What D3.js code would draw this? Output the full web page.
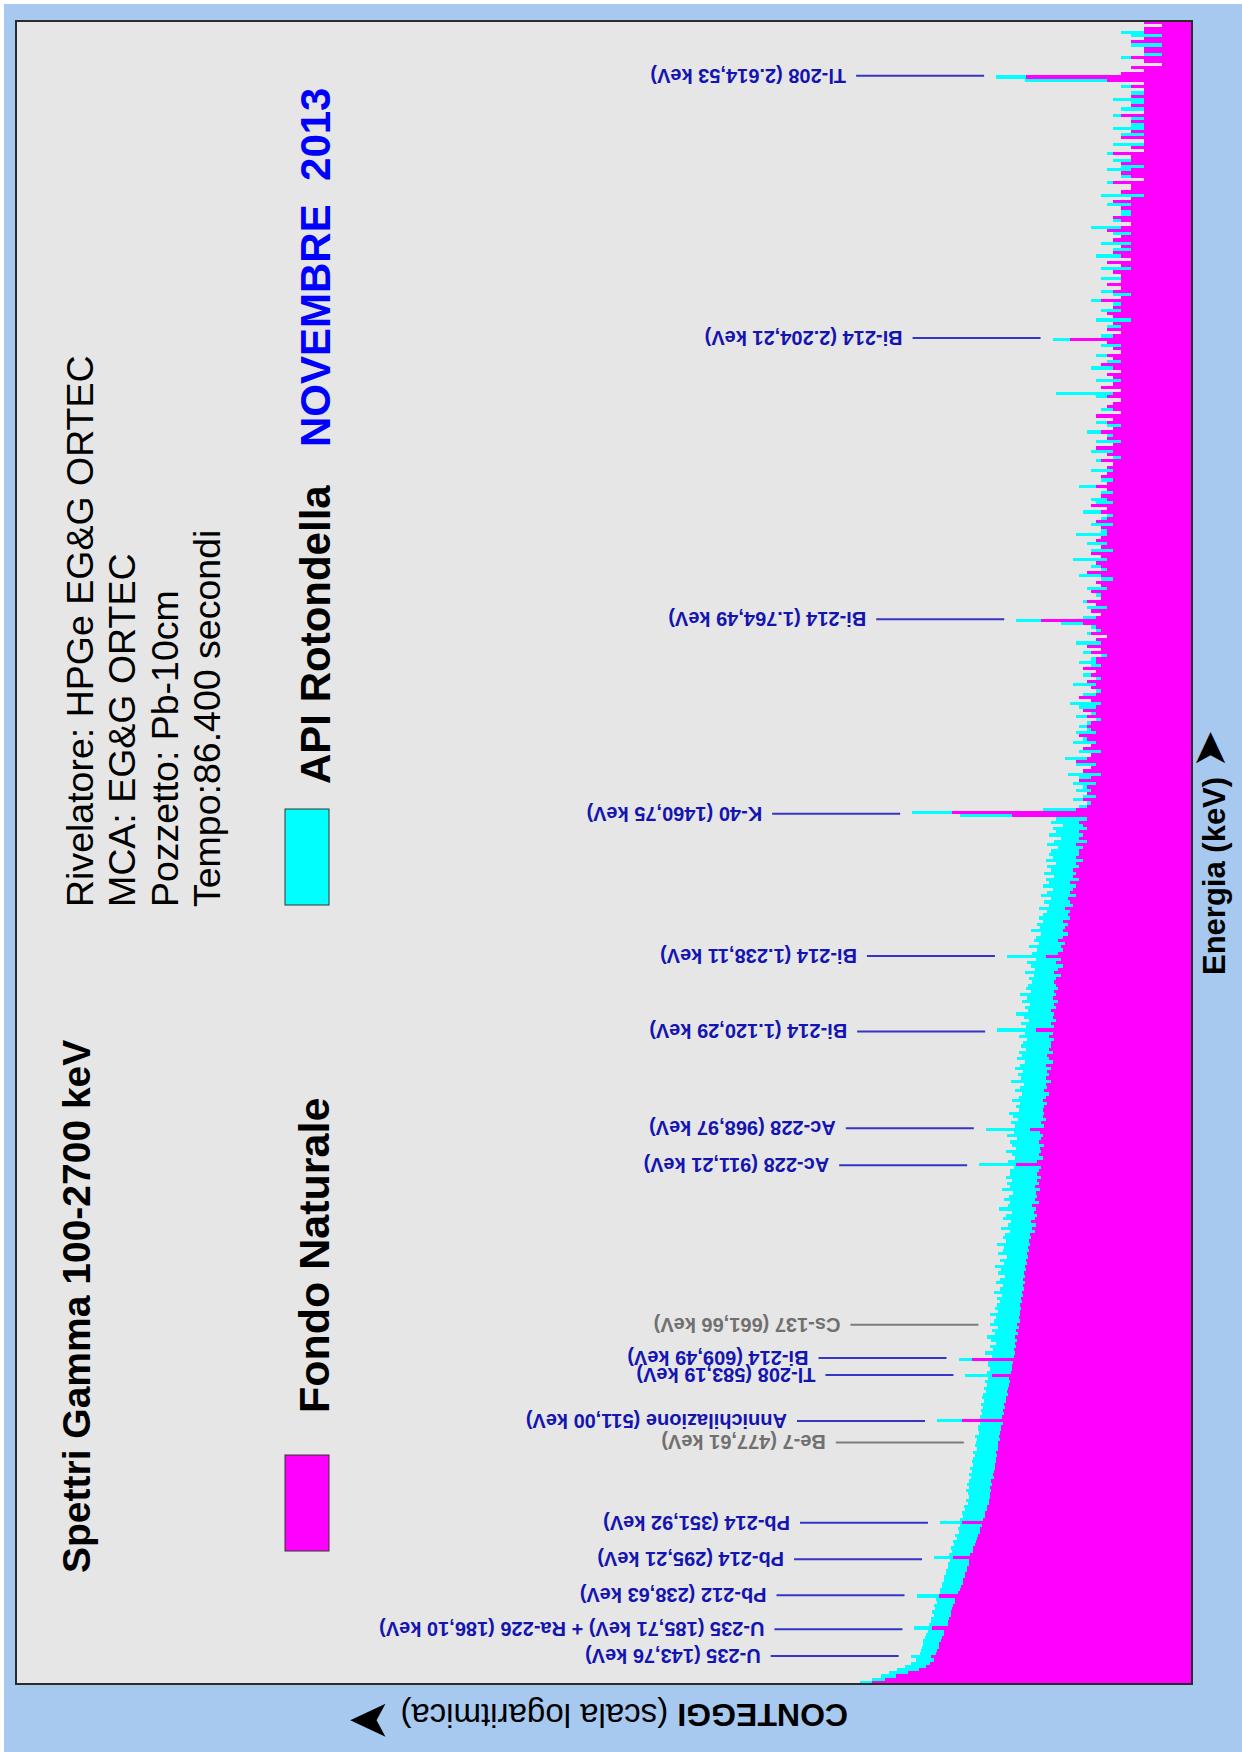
<!DOCTYPE html>
<html>
<head>
<meta charset="utf-8">
<script src="https://cdn.jsdelivr.net/npm/d3@7"></script>
<style>
  html, body { margin: 0; padding: 0; background: #ffffff; }
  svg { display: block; }
  text { font-family: "Liberation Sans", Arial, Helvetica, sans-serif; }
</style>
</head>
<body>
<svg id="chart" width="1242" height="1752"></svg>
<script>
// Energy binning of both spectra (keV)
const binStart = 100;
const binWidth = 5;
const energyMax = 2700;
// Upper end of the logarithmic counts axis
const countMax = 4.4e11;

// Counts per 5 keV bin, 100 -> 2700 keV (one row = 100 keV)
const fondoNaturale = [
  1480,1100,850,650,500,430,395,362,380,345,334,322,320,306,302,288,284,375,262,259,
  254,245,244,236,234,224,221,320,206,196,194,186,185,178,177,170,169,163,161,232,
  157,149,147,140,139,134,132,127,126,121,189,118,113,112,108,108,103,103,99,100,
  98,100,95,97,92,94,91,89,90,87,88,85,87,83,84,83,80,82,79,78,
  77,75,190,76,73,74,71,72,69,70,67,68,66,65,64,65,95,62,61,60,
  59,150,58,56,58,55,57,54,56,53,55,52,54,51,52,50,51,49,50,48,
  49,47,48,46,47,45,47,45,46,44,45,43,44,42,43,41,42,40,41,39,
  40,36,38,35,39,36,34,37,35,38,33,36,34,35,32,36,33,34,31,34,
  33,31,55,34,30,33,31,32,29,33,31,30,32,40,29,31,28,30,29,30,
  29,27,30,28,26,29,27,28,25,28,26,27,25,28,24,26,27,24,26,25,
  25,23,26,24,35,23,25,22,24,23,25,22,23,21,24,22,23,21,22,23,
  22,20,23,21,19,22,20,28,21,19,20,18,21,19,17,19,18,17,19,16,
  17,16,18,15,16,17,14,16,15,14,16,13,15,14,15,13,14,12,14,13,
  13,12,14,11,13,12,13,11,12,13,11,60,240,14,11,10,12,9,11,10,
  11,9,13,10,8,12,10,9,14,11,10,8,12,10,9,11,13,9,10,11,
  10,8,11,9,12,9,8,10,13,9,8,10,9,11,8,10,9,12,8,9,
  9,7,10,8,11,8,9,7,10,8,9,12,31,9,8,10,7,9,11,8,
  8,10,7,8,9,6,8,11,7,8,9,7,8,10,6,8,7,9,8,7,
  7,8,6,9,7,6,8,7,10,6,7,8,6,7,9,7,6,8,7,6,
  7,6,8,5,7,6,9,6,5,7,6,8,6,5,7,6,9,5,6,7,
  6,5,7,6,5,8,6,5,6,7,5,6,8,5,6,7,5,6,5,7,
  16,6,5,7,5,6,4,6,7,5,6,5,8,5,4,6,5,7,5,5,
  5,6,4,5,7,4,5,6,4,5,4,6,5,4,7,5,4,5,6,4,
  4,5,4,6,4,3,5,4,4,6,3,4,5,4,3,5,4,4,6,3,
  4,3,3,5,3,4,3,3,4,3,5,3,3,4,3,3,4,3,3,4,
  3,7,44,5,3,4,2,3,4,2,3,3,2,4,3,2,3,3,2,3
];

const apiRotondella = [
  1950,1480,1210,990,840,700,610,540,610,495,482,474,462,458,438,428,408,560,398,383,
  384,362,371,350,356,333,341,534,316,312,302,297,288,284,272,270,262,260,250,358,
  254,238,244,226,231,214,220,204,208,196,313,197,183,189,175,180,166,172,160,166,
  172,160,169,163,154,161,150,157,148,151,146,142,149,136,141,138,133,140,129,132,
  130,126,335,127,121,124,118,123,114,119,117,109,115,108,112,104,175,107,101,105,
  104,205,96,112,94,101,88,97,108,90,95,84,99,92,87,101,83,90,86,80,
  85,76,92,79,74,88,80,71,84,77,90,73,79,68,83,75,72,86,70,74,
  71,64,78,67,62,74,69,60,81,66,63,72,65,59,76,64,68,61,70,63,
  64,58,128,66,57,61,70,55,60,63,54,68,58,110,56,62,53,59,65,52,
  55,50,60,52,48,57,51,46,62,49,53,47,56,50,45,54,48,52,44,49,
  47,43,52,45,85,44,49,41,46,55,42,45,40,48,43,51,39,44,42,38,
  41,37,45,36,39,43,35,68,38,34,41,33,37,35,31,39,32,34,30,33,
  30,27,33,26,29,25,31,27,24,30,26,28,23,29,25,27,22,28,24,26,
  25,21,27,23,20,26,22,24,19,25,22,200,590,30,13,11,15,12,10,14,
  12,15,10,13,17,11,9,14,12,18,10,13,11,9,15,12,10,14,11,13,
  11,9,14,10,8,13,16,10,11,12,9,8,15,11,9,12,8,11,10,13,
  10,8,12,7,9,14,9,7,11,9,10,20,55,12,8,7,11,9,12,7,
  9,7,11,6,9,8,13,6,8,10,7,15,8,6,10,8,11,6,8,14,
  8,6,10,5,8,7,12,6,5,9,10,6,8,5,13,7,8,6,5,10,
  7,5,9,6,5,10,7,4,9,6,7,11,5,7,9,5,7,4,8,6,
  6,5,9,22,5,7,4,9,6,7,5,10,4,7,6,9,5,4,8,6,
  24,8,5,4,7,6,9,4,6,8,4,6,10,4,6,8,4,6,5,8,
  4,6,8,4,6,3,9,5,6,4,8,5,3,6,5,10,4,6,3,5,
  5,3,7,5,3,8,5,3,4,7,3,5,4,7,5,3,6,4,7,3,
  4,6,3,4,5,2,6,4,3,4,6,3,5,2,4,6,3,4,3,5,
  3,45,87,5,3,4,2,3,5,3,3,2,4,3,2,4,5,3,2,3
];

// Identified gamma lines
const peakLabels = [
  "U-235 (143,76 keV)",
  "U-235 (185,71 keV) + Ra-226 (186,10 keV)",
  "Pb-212 (238,63 keV)",
  "Pb-214 (295,21 keV)",
  "Pb-214 (351,92 keV)",
  "Be-7 (477,61 keV)",
  "Annichilazione (511,00 keV)",
  "Tl-208 (583,19 keV)",
  "Bi-214 (609,49 keV)",
  "Cs-137 (661,66 keV)",
  "Ac-228 (911,21 keV)",
  "Ac-228 (968,97 keV)",
  "Bi-214 (1.120,29 keV)",
  "Bi-214 (1.238,11 keV)",
  "K-40 (1460,75 keV)",
  "Bi-214 (1.764,49 keV)",
  "Bi-214 (2.204,21 keV)",
  "Tl-208 (2.614,53 keV)"
];
const peakEnergies = [143.76, 185.71, 238.63, 295.21, 351.92, 477.61, 511.00, 583.19, 609.49,
  661.66, 911.21, 968.97, 1120.29, 1238.11, 1460.75, 1764.49, 2204.21, 2614.53];
const peakDetected = [true, true, true, true, true, false, true, true, true,
  false, true, true, true, true, true, true, true, true];

const titleText = "Spettri Gamma 100-2700 keV";
const infoLines = ["Rivelatore: HPGe EG&G ORTEC", "MCA: EG&G ORTEC", "Pozzetto: Pb-10cm", "Tempo:86.400 secondi"];
const seriesNames = ["Fondo Naturale", "API Rotondella"];
const periodText = "NOVEMBRE\u00a0\u00a02013";
const energyTitle = "Energia (keV)";
const countsTitle = ["CONTEGGI", "(scala logaritmica)"];

// ---------------------------------------------------------------
const W = 1242, H = 1752;
const plot = { left: 16, right: 1192, top: 21, bottom: 1684 };
const colors = { fondo: "#ff00ff", api: "#00ffff", page: "#a7c9ef", panel: "#e6e6e6" };

const svg = d3.select("#chart");

svg.append("rect").attr("x", 4).attr("y", 4).attr("width", W - 4).attr("height", H - 4)
  .attr("fill", colors.page);
svg.append("rect").attr("x", plot.left).attr("y", plot.top)
  .attr("width", plot.right - plot.left).attr("height", plot.bottom - plot.top)
  .attr("fill", colors.panel);

// Energy runs up the page, counts (log) grow to the left
const eScale = d3.scaleLinear().domain([binStart, energyMax]).range([plot.bottom, plot.top]);
const cScale = d3.scaleLog().domain([1, countMax]).range([plot.right, plot.left]);

function spectrumPath(values) {
  const pts = values.map((c, i) => ({ e: binStart + i * binWidth, c }));
  pts.push({ e: binStart + values.length * binWidth, c: values[values.length - 1] });
  return d3.area()
    .curve(d3.curveStepBefore)
    .y(d => eScale(d.e))
    .x0(plot.right)
    .x1(d => cScale(Math.max(1, d.c)))(pts);
}

const spectra = svg.append("g");
spectra.append("path").attr("d", spectrumPath(apiRotondella))
  .attr("fill", colors.api).attr("shape-rendering", "crispEdges");
spectra.append("path").attr("d", spectrumPath(fondoNaturale))
  .attr("fill", colors.fondo).attr("shape-rendering", "crispEdges");

// panel frame
svg.append("rect").attr("x", plot.left).attr("y", plot.top)
  .attr("width", plot.right - plot.left).attr("height", plot.bottom - plot.top)
  .attr("fill", "none").attr("stroke", "#2b2b2b").attr("stroke-width", 2);

// Peak annotations: a leader just short of the peak tip, label beyond it (upside down)
const tipGap = 12, leaderLength = 128, labelGap = 10;
const notes = svg.append("g");
peakEnergies.forEach((e, k) => {
  const bin = Math.floor((e - binStart) / binWidth);
  const tip = Math.max(apiRotondella[bin], fondoNaturale[bin]);
  const x1 = cScale(tip) - tipGap;
  const x0 = x1 - leaderLength;
  const y = eScale(e);
  const lineColor = peakDetected[k] ? "#3535c6" : "#7c7c7c";
  const textColor = peakDetected[k] ? "#1414b0" : "#707070";
  notes.append("line").attr("x1", x0).attr("x2", x1).attr("y1", y).attr("y2", y)
    .attr("stroke", lineColor).attr("stroke-width", 2);
  notes.append("text")
    .attr("transform", `translate(${x0 - labelGap},${y}) rotate(180)`)
    .attr("dominant-baseline", "central")
    .attr("font-size", 20).attr("font-weight", "bold")
    .attr("fill", textColor)
    .text(peakLabels[k]);
});

// Vertical text helper (reads bottom to top)
function upText(x, y, str, size, weight, fill) {
  return svg.append("text")
    .attr("transform", `translate(${x},${y}) rotate(-90)`)
    .attr("font-size", size).attr("font-weight", weight).attr("fill", fill)
    .text(str);
}

upText(90, 1573, titleText, 39, "bold", "#000");
infoLines.forEach((s, i) => upText(93 + i * 42.4, 907, s, 37.5, "normal", "#000"));

// Legend
svg.append("rect").attr("x", 285).attr("y", 1455).attr("width", 44).attr("height", 96)
  .attr("fill", colors.fondo).attr("stroke", "#333").attr("stroke-width", 1);
upText(329, 1413, seriesNames[0], 43, "bold", "#000");
svg.append("rect").attr("x", 285).attr("y", 809).attr("width", 44).attr("height", 96)
  .attr("fill", colors.api).attr("stroke", "#333").attr("stroke-width", 1);
upText(330, 784, seriesNames[1], 42, "bold", "#000");
upText(330, 447, periodText, 42, "bold", "#0000ff");

// Axis titles
const eTitle = svg.append("text")
  .attr("transform", "translate(1225,975) rotate(-90)")
  .attr("font-size", 31).attr("font-weight", "bold").attr("fill", "#000");
eTitle.append("tspan").text(energyTitle + "\u00a0");
eTitle.append("tspan").attr("font-family", "DejaVu Sans").attr("font-size", 46).text("\u27a4");

const cTitle = svg.append("text")
  .attr("transform", "translate(848,1704) rotate(180)")
  .attr("font-size", 32).attr("fill", "#000");
cTitle.append("tspan").attr("font-weight", "bold").text(countsTitle[0]);
cTitle.append("tspan").attr("font-size", 33).text("\u00a0" + countsTitle[1] + "\u00a0");
cTitle.append("tspan").attr("font-family", "DejaVu Sans").attr("font-size", 52).text("\u27a4");
</script>
</body>
</html>
